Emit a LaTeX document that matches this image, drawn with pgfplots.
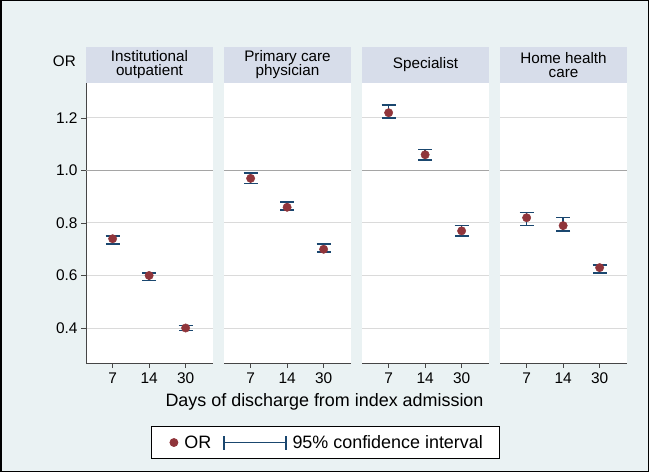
\documentclass[border=0pt]{standalone}
\usepackage{pgfplots}
\usepackage{pgfplotstable}
\pgfplotsset{compat=1.18}
\usepackage{fontspec}
\setmainfont{Liberation Sans}
\definecolor{bgc}{RGB}{234,242,243}
\definecolor{headc}{RGB}{215,221,234}
\definecolor{orc}{RGB}{144,53,59}
\definecolor{cic}{RGB}{26,71,111}
\definecolor{gridc}{RGB}{218,218,218}
\definecolor{gridd}{RGB}{165,165,165}
\definecolor{axc}{RGB}{70,70,70}

\pgfplotstableread{
x y lo hi
1 0.74 0.72 0.75
2 0.60 0.58 0.61
3 0.40 0.39 0.41
}\panelA
\pgfplotstableread{
x y lo hi
1 0.97 0.95 0.99
2 0.86 0.85 0.88
3 0.70 0.69 0.72
}\panelB
\pgfplotstableread{
x y lo hi
1 1.22 1.20 1.25
2 1.06 1.04 1.08
3 0.77 0.75 0.79
}\panelC
\pgfplotstableread{
x y lo hi
1 0.82 0.79 0.84
2 0.79 0.77 0.82
3 0.63 0.61 0.64
}\panelD

\pgfplotsset{
  panel/.style={
    scale only axis, width=127bp, height=280bp,
    anchor=south west,
    xmin=0.27, xmax=3.75, ymin=0.2667, ymax=1.3333,
    xtick={1,2,3}, xticklabels={7,14,30},
    ytick={0.4,0.6,0.8,1.2}, yticklabels={0.4,0.6,0.8,1.2},
    extra y ticks={1}, extra y tick labels={1.0},
    extra y tick style={grid style={draw=gridd, line width=1bp}},
    ymajorgrids, grid style={draw=gridc, line width=1bp},
    axis x line*=bottom, axis y line*=left,
    x axis line style={draw=axc, line width=0.9bp, -},
    y axis line style={draw=axc, line width=0.9bp, -},
    tick align=outside, major tick length=5bp,
    tick style={draw=axc, line width=0.8bp},
    axis background/.style={fill=white},
    tick label style={font=\fontsize{15.5}{17}\selectfont},
    /pgf/number format/assume math mode=true,
    xticklabel style={yshift=-1bp},
    title style={at={(0.5,1)}, anchor=south, yshift=-6pt, fill=headc,
      minimum width=127bp, minimum height=36bp, inner sep=0pt, align=center,
      font=\fontsize{15.3}{14.5}\selectfont},
    clip=false,
  },
  noy/.style={
    yticklabels={}, extra y tick labels={},
    y axis line style={draw=none},
    ytick style={draw=none},
  },
  cibars/.style={draw=none, mark=none, forget plot,
    error bars/.cd, y dir=both, y explicit,
    error bar style={cic, line width=1.4bp},
    error mark=-, error mark options={cic, line width=1.4bp, mark size=7bp, rotate=90}},
  ordots/.style={only marks, mark=*, mark size=4.2bp, color=orc, forget plot},
}

\begin{document}
\begin{tikzpicture}
\path[use as bounding box] (0,0) rectangle (649bp,472bp);
\fill[bgc] (0,0) rectangle (649bp,472bp);
\draw[black, line width=1.5bp] (0.75bp,0.75bp) rectangle (648.25bp,471.25bp);

\begin{axis}[panel, at={(86bp,109bp)}, title={Institutional\\outpatient},
  legend columns=2,
  legend style={at={(1.8835,-0.284)}, anchor=center, draw=black, fill=white,
    line width=0.8bp, font=\fontsize{18}{20}\selectfont,
    inner xsep=14bp, inner ysep=6.5bp,
    /tikz/every odd column/.append style={column sep=4bp},
    /tikz/every even column/.append style={column sep=10bp}},
  ]
\addplot[cibars] table[x=x, y=y, y error plus expr=\thisrow{hi}-\thisrow{y}, y error minus expr=\thisrow{y}-\thisrow{lo}] {\panelA};
\addplot[ordots] table[x=x, y=y] {\panelA};
\addlegendimage{legend image code/.code={\path (-8bp,0bp); \fill[orc] (0bp,0bp) circle (4bp);}}
\addlegendentry{OR}
\addlegendimage{legend image code/.code={\draw[cic, line width=1.3bp] (0bp,-7bp)--(0bp,7bp) (0bp,0bp)--(62bp,0bp) (62bp,-7bp)--(62bp,7bp);}}
\addlegendentry{95\% confidence interval}
\node[anchor=base east, inner sep=0pt, font=\fontsize{15.3}{17}\selectfont] at ([xshift=-10bp,yshift=16bp]rel axis cs:0,1) {OR};
\end{axis}

\begin{axis}[panel, noy, at={(224bp,109bp)}, title={Primary care\\physician}]
\addplot[cibars] table[x=x, y=y, y error plus expr=\thisrow{hi}-\thisrow{y}, y error minus expr=\thisrow{y}-\thisrow{lo}] {\panelB};
\addplot[ordots] table[x=x, y=y] {\panelB};
\end{axis}

\begin{axis}[panel, noy, at={(362bp,109bp)}, title={Specialist}]
\addplot[cibars] table[x=x, y=y, y error plus expr=\thisrow{hi}-\thisrow{y}, y error minus expr=\thisrow{y}-\thisrow{lo}] {\panelC};
\addplot[ordots] table[x=x, y=y] {\panelC};
\end{axis}

\begin{axis}[panel, noy, at={(500bp,109bp)}, title={Home health\\care}]
\addplot[cibars] table[x=x, y=y, y error plus expr=\thisrow{hi}-\thisrow{y}, y error minus expr=\thisrow{y}-\thisrow{lo}] {\panelD};
\addplot[ordots] table[x=x, y=y] {\panelD};
\end{axis}

\node[anchor=base, inner sep=0pt, font=\fontsize{18}{20}\selectfont] at (324.5bp,65bp) {Days of discharge from index admission};
\end{tikzpicture}
\end{document}
